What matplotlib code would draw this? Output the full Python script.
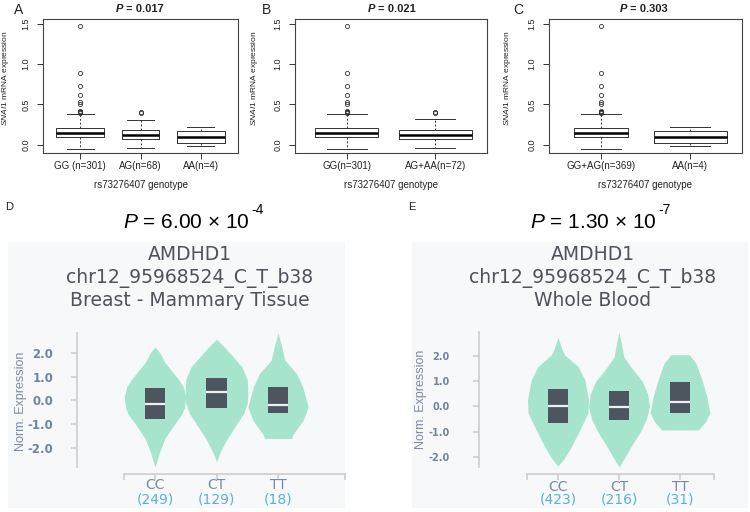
import numpy as np
import matplotlib

matplotlib.use('Agg')

import matplotlib.pyplot as plt

plt.rcParams['font.family'] = ['Liberation Sans', 'DejaVu Sans']
plt.rcParams['mathtext.fontset'] = 'custom'
plt.rcParams['mathtext.rm'] = 'Liberation Sans'
plt.rcParams['mathtext.it'] = 'Liberation Sans:italic'

# ---- data: panels A-C (boxplots of SNAI1 expression) ----
gg_fliers = [1.47, 0.89, 0.73, 0.62, 0.53, 0.50, 0.42, 0.41, 0.40, 0.40, 0.39]

a_labels = ['GG (n=301)', 'AG(n=68)', 'AA(n=4)']
a_q1 = [0.09, 0.07, 0.02]
a_med = [0.145, 0.12, 0.09]
a_q3 = [0.21, 0.18, 0.17]
a_lo = [-0.05, -0.04, -0.02]
a_hi = [0.38, 0.31, 0.22]
a_fliers = [gg_fliers, [0.39, 0.41], []]

b_labels = ['GG(n=301)', 'AG+AA(n=72)']
b_q1 = [0.09, 0.07]
b_med = [0.145, 0.12]
b_q3 = [0.21, 0.175]
b_lo = [-0.05, -0.04]
b_hi = [0.38, 0.315]
b_fliers = [gg_fliers, [0.39, 0.41]]

c_labels = ['GG+AG(n=369)', 'AA(n=4)']
c_q1 = [0.09, 0.02]
c_med = [0.145, 0.09]
c_q3 = [0.21, 0.17]
c_lo = [-0.05, -0.02]
c_hi = [0.38, 0.22]
c_fliers = [gg_fliers, []]

# ---- data: panels D-E (GTEx violins) ----
genotypes = ['CC', 'CT', 'TT']
d_counts = ['(249)', '(129)', '(18)']
e_counts = ['(423)', '(216)', '(31)']

# violin outlines: y levels and half widths
d_cc_y = [2.25, 2.0, 1.6, 1.28, 0.9, 0.57, 0.15, -0.3, -0.6, -1.1, -1.6, -2.2, -2.8]
d_cc_w = [0.0, 0.08, 0.16, 0.26, 0.38, 0.46, 0.50, 0.48, 0.43, 0.29, 0.16, 0.07, 0.0]
d_ct_y = [2.58, 2.27, 1.9, 1.43, 0.87, 0.31, -0.1, -0.55, -1.1, -1.67, -2.23, -2.58]
d_ct_w = [0.0, 0.12, 0.25, 0.41, 0.50, 0.51, 0.50, 0.44, 0.30, 0.16, 0.05, 0.0]
d_tt_y = [2.83, 2.27, 1.7, 1.14, 0.58, 0.02, -0.27, -0.83, -1.4, -1.6]
d_tt_w = [0.0, 0.06, 0.11, 0.30, 0.40, 0.46, 0.49, 0.41, 0.25, 0.22]

e_cc_y = [2.74, 2.3, 2.04, 1.58, 1.05, 0.26, -0.27, -1.06, -1.72, -2.1, -2.36]
e_cc_w = [0.0, 0.06, 0.11, 0.33, 0.44, 0.50, 0.49, 0.33, 0.19, 0.09, 0.0]
e_ct_y = [2.95, 2.5, 1.96, 1.45, 1.0, 0.5, 0.0, -0.5, -1.0, -1.5, -2.0, -2.4]
e_ct_w = [0.0, 0.04, 0.08, 0.23, 0.38, 0.47, 0.50, 0.45, 0.35, 0.22, 0.10, 0.0]
e_tt_y = [2.05, 1.72, 1.05, 0.39, -0.26, -0.6, -0.85, -0.93]
e_tt_w = [0.15, 0.26, 0.36, 0.44, 0.49, 0.42, 0.33, 0.30]

d_q1 = [-0.78, -0.33, -0.54]
d_med = [-0.13, 0.37, -0.19]
d_q3 = [0.51, 0.96, 0.58]
e_q1 = [-0.64, -0.53, -0.25]
e_med = [0.02, -0.01, 0.17]
e_q3 = [0.68, 0.61, 0.98]

W, H = 750, 512
fig = plt.figure(figsize=(W / 100, H / 100), dpi=100)


def px_axes(l, t, r, b):
    return fig.add_axes([l / W, 1 - b / H, (r - l) / W, (b - t) / H])


def fig_text(x, y, s, **kw):
    return fig.text(x / W, 1 - y / H, s, **kw)


def box_panel(ax, labels, q1, med, q3, lo, hi, fliers, widths):
    n = len(labels)
    stats = [dict(med=m, q1=a, q3=b, whislo=l, whishi=h, fliers=f)
             for a, m, b, l, h, f in zip(q1, med, q3, lo, hi, fliers)]
    ink = '#333333'
    ax.bxp(stats, positions=range(1, n + 1), widths=widths, capwidths=0.45,
           boxprops=dict(color=ink, lw=0.7),
           whiskerprops=dict(color=ink, lw=0.7, linestyle=(0, (2, 2))),
           capprops=dict(color=ink, lw=0.7),
           medianprops=dict(color='black', lw=1.8),
           flierprops=dict(marker='o', mfc='none', mec=ink, markersize=3, mew=0.6))
    ax.set_xlim(0.5 - 0.04 * n, n + 0.5 + 0.04 * n)
    ax.set_ylim(-0.105, 1.559)
    ax.set_yticks([0, 0.5, 1.0, 1.5])
    ax.set_yticklabels(['0.0', '0.5', '1.0', '1.5'], rotation=90, va='center')
    ax.set_xticks(range(1, n + 1))
    ax.set_xticklabels(labels)
    ax.tick_params(axis='both', length=4, width=0.7, color=ink, labelsize=7, labelcolor='#222222')
    ax.tick_params(axis='y', labelsize=6.5, pad=5)
    ax.tick_params(axis='x', pad=2)
    for s in ax.spines.values():
        s.set_color('#444444')
        s.set_linewidth(0.8)
    ax.set_xlabel('rs73276407 genotype', fontsize=7, color='#222222', labelpad=6)
    ax.set_ylabel(r'$\it{SNAI1}$ mRNA expression', fontsize=6, color='#222222')


def p_title(center, value):
    fig_text(center - 17, 9, 'P', fontsize=8, fontweight='bold', style='italic',
             ha='right', va='center', color='#222222')
    fig_text(center - 14, 9, '= ' + value, fontsize=8, fontweight='bold',
             ha='left', va='center', color='#222222')


# panels A-C
ax_a = px_axes(43, 19, 238, 153)
box_panel(ax_a, a_labels, a_q1, a_med, a_q3, a_lo, a_hi, a_fliers, [0.8, 0.62, 0.8])
ax_a.yaxis.set_label_coords((11 - 43) / 195, 0.56)
ax_b = px_axes(295, 19, 487, 153)
box_panel(ax_b, b_labels, b_q1, b_med, b_q3, b_lo, b_hi, b_fliers, [0.71, 0.82])
ax_b.yaxis.set_label_coords((260 - 295) / 192, 0.56)
ax_c = px_axes(549, 19, 742, 153)
box_panel(ax_c, c_labels, c_q1, c_med, c_q3, c_lo, c_hi, c_fliers, [0.6, 0.82])
ax_c.yaxis.set_label_coords((513 - 549) / 193, 0.56)

p_title(140, '0.017')
p_title(392, '0.021')
p_title(644, '0.303')

fig_text(14, 10, 'A', fontsize=10, va='center', color='#222222')
fig_text(262, 10, 'B', fontsize=10, va='center', color='#222222')
fig_text(513, 10, 'C', fontsize=10, va='center', color='#222222')

# panels D-E
violin_color = '#a6e4cd'
box_color = '#4d565e'
axis_color = '#cdcdcd'
label_color = '#7689a4'
count_color = '#5cb0d8'
title_color = '#4e525c'


def violin_panel(ax, ys_list, ws_list, q1, med, q3, counts, xlim, ylim, bounds,
                 lab_y, tickpad, ticksize):
    for i, (ys, ws) in enumerate(zip(ys_list, ws_list)):
        ys = np.array(ys)
        ws = np.array(ws)
        ax.fill_betweenx(ys, i - ws, i + ws, color=violin_color, lw=0)
    x = np.arange(len(q1))
    ax.bar(x, np.array(q3) - np.array(q1), bottom=q1, width=0.33, color=box_color, zorder=3)
    ax.hlines(med, x - 0.165, x + 0.165, color='#eef0f2', lw=1.6, zorder=4)
    ax.set_xlim(*xlim)
    ax.set_ylim(*ylim)
    ax.set_facecolor('none')
    ax.spines['top'].set_visible(False)
    ax.spines['right'].set_visible(False)
    ax.spines['left'].set_color(axis_color)
    ax.spines['left'].set_linewidth(1.2)
    ax.spines['bottom'].set_color(axis_color)
    ax.spines['bottom'].set_linewidth(1.2)
    ax.spines['bottom'].set_position(('outward', 5))
    ax.spines['bottom'].set_bounds(*bounds)
    ax.set_yticks([2, 1, 0, -1, -2])
    ax.set_yticklabels(['2.0', '1.0', '0.0', '-1.0', '-2.0'], family='DejaVu Sans',
                       fontweight='bold', fontsize=ticksize, color='#6f84a0')
    ax.tick_params(axis='y', length=4, width=1.2, color=axis_color, pad=tickpad)
    ax.set_xticks([bounds[0], 0, 1, 2, bounds[1]])
    ax.set_xticklabels([])
    ax.tick_params(axis='x', length=4, width=1.2, color=axis_color)
    tr = ax.get_xaxis_transform()
    for i, (g, c) in enumerate(zip(genotypes, counts)):
        ax.text(i, lab_y[0], g, transform=tr, ha='center', va='center',
                family='DejaVu Sans', fontsize=10, color=label_color)
        ax.text(i, lab_y[1], c, transform=tr, ha='center', va='center',
                family='DejaVu Sans', fontsize=10, color=count_color)


# light background panels
fig.add_artist(plt.Rectangle((8 / W, 1 - 508 / H), 337 / W, 266 / H,
                             transform=fig.transFigure, color='#f7f8fa', lw=0, zorder=0))
fig.add_artist(plt.Rectangle((412 / W, 1 - 508 / H), 336 / W, 266 / H,
                             transform=fig.transFigure, color='#f7f8fa', lw=0, zorder=0))

ax_d = px_axes(77, 333, 345, 467)
violin_panel(ax_d, [d_cc_y, d_ct_y, d_tt_y], [d_cc_w, d_ct_w, d_tt_w],
             d_q1, d_med, d_q3, d_counts,
             ((77 - 155) / 61.5, (345 - 155) / 61.5), (-2.8, 2.84),
             ((124 - 155) / 61.5, (345 - 155) / 61.5), (-0.134, -0.246), 13, 8.5)

ax_e = px_axes(479, 332, 714, 467)
violin_panel(ax_e, [e_cc_y, e_ct_y, e_tt_y], [e_cc_w, e_ct_w, e_tt_w],
             e_q1, e_med, e_q3, e_counts,
             ((479 - 558) / 61, (714 - 558) / 61), (-2.4, 2.95),
             ((527 - 558) / 61, (714 - 558) / 61), (-0.148, -0.244), 17, 7)

for x0, tissue in [(190, 'Breast - Mammary Tissue'), (593, 'Whole Blood')]:
    fig_text(x0, 255, 'AMDHD1', family='DejaVu Sans', fontsize=13.5, ha='center', va='center', color=title_color)
    fig_text(x0, 278, 'chr12_95968524_C_T_b38', family='DejaVu Sans', fontsize=13.5,
             ha='center', va='center', color=title_color)
    fig_text(x0, 300, tissue, family='DejaVu Sans', fontsize=13.5, ha='center', va='center', color=title_color)

fig_text(21, 401, 'Norm. Expression', rotation=90, fontsize=9, ha='center', va='center', color='#7a8aa3')
fig_text(421, 399, 'Norm. Expression', rotation=90, fontsize=9, ha='center', va='center', color='#7a8aa3')

# P value headers
fig_text(250, 222, r'$P$ = 6.00 × 10', fontsize=15, ha='right', va='center', color='black')
fig_text(251, 210, '-4', fontsize=10, ha='left', va='center', color='black')
fig_text(657, 223, r'$P$ = 1.30 × 10', fontsize=15, ha='right', va='center', color='black')
fig_text(658, 210, '-7', fontsize=10, ha='left', va='center', color='black')

fig_text(5, 207, 'D', fontsize=8, va='center', color='#222222')
fig_text(408, 207, 'E', fontsize=8, va='center', color='#222222')

fig.savefig('out.png', dpi=100)
